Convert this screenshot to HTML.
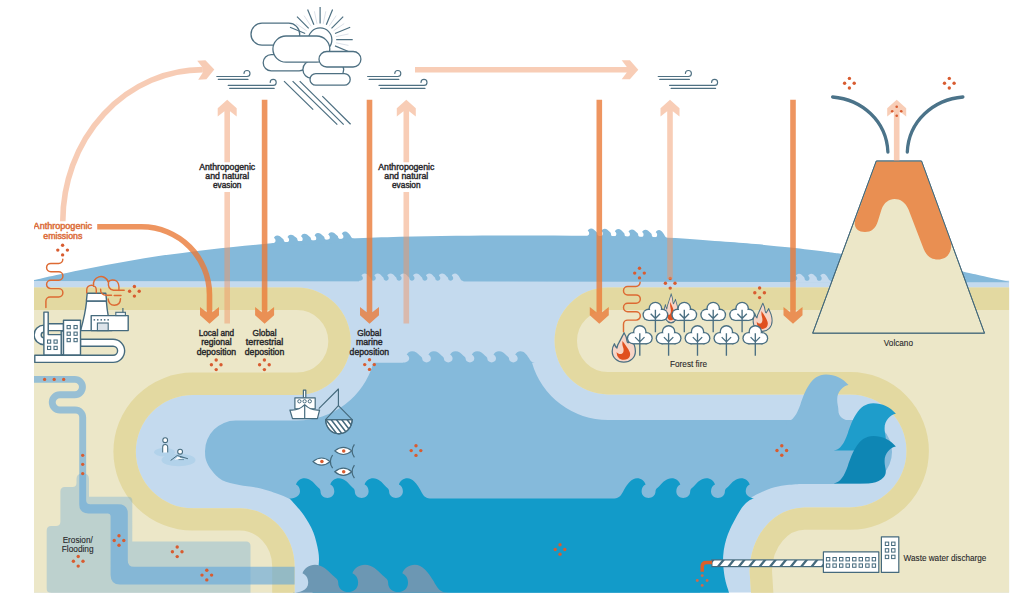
<!DOCTYPE html>
<html><head><meta charset="utf-8"><title>Mercury cycle</title>
<style>
html,body{margin:0;padding:0;background:#fff;}
body{width:1024px;height:606px;overflow:hidden;position:relative;font-family:"Liberation Sans",sans-serif;}
svg{position:absolute;left:0;top:0;display:block}
svg text{font-family:"Liberation Sans",sans-serif;}
</style></head><body>
<svg width="1024" height="606" viewBox="0 0 1024 606">
<defs>
<clipPath id="frame"><rect x="34" y="0" width="975.3" height="592.7"/></clipPath>

<clipPath id="land"><path d="M34,287.6 H297 A53.7,53.7 0 0 1 297,395 H192.8 A57,56.6 0 0 0 192.8,508.2 H240 A54.6,58.3 0 0 1 294.6,566.5 V600 H34 Z"/><path d="M1009.3,287.6 H608 A53.4,53.4 0 0 0 608,394.4 H850.2 A56.3,56.5 0 0 1 850.2,507.4 H804.5 A55,64 0 0 0 749.6,571.4 L751.5,600 H1009.3 Z"/></clipPath>
</defs>
<g clip-path="url(#frame)">
<rect x="34" y="280.6" width="975.3" height="312.1" fill="#C4DAEE"/>
<path d="M34,280 C37.6,279.2 47.6,276.9 55.4,275.2 C63.2,273.5 72.3,271.6 80.8,269.9 C89.3,268.2 97.7,266.6 106.2,265 C114.7,263.4 123.1,262 131.6,260.5 C140.1,259 148.5,257.5 157,256.2 C165.5,254.9 173.9,254 182.4,252.9 C190.9,251.8 199.3,250.8 207.8,249.8 C216.3,248.8 224.7,247.9 233.2,247 C241.7,246.1 250.1,245.3 258.6,244.5 C267.1,243.7 268.8,243.2 284,242.2 C299.2,241.2 330.7,239.5 350,238.6 C369.3,237.7 382.3,237.2 400,236.7 C417.7,236.2 436,235.9 456,235.7 C476,235.5 497.7,235.4 520,235.4 C542.3,235.4 565.4,235.4 590,235.8 C614.6,236.2 645.9,236.8 667.6,237.7 C689.3,238.6 705.6,240.2 720.3,241.3 C734.9,242.4 743.8,243.1 755.5,244.1 C767.2,245.1 778.9,246.3 790.6,247.6 C802.3,248.9 817.3,250.8 825.8,251.8 C834.3,252.9 829.2,252.3 841.6,253.9 C854,255.5 883.6,259.3 900,261.6 C916.4,263.9 928.9,265.8 940,267.6 C951.1,269.4 959.2,271 966.5,272.4 C973.8,273.8 976.9,274.6 984,276.2 C991.1,277.8 1005.1,280.8 1009.3,281.7 L1009.3,282.2 L34,281 Z" fill="#84B9DA"/>
<g clip-path="url(#land)">
<rect x="34" y="280" width="976" height="320" fill="#ECE7C8"/>
<path d="M20,287.6 H297 A53.7,53.7 0 0 1 297,395 H192.8 A57,56.6 0 0 0 192.8,508.2 H240 A54.6,58.3 0 0 1 294.6,566.5 V610" fill="none" stroke="#E3D9A1" stroke-width="44.8"/>
<path d="M1030,287.6 H608 A53.4,53.4 0 0 0 608,394.4 H850.2 A56.3,56.5 0 0 1 850.2,507.4 H804.5 A55,64 0 0 0 749.6,571.4 L752,610" fill="none" stroke="#E3D9A1" stroke-width="44.8"/>
</g>
<path d="M235.7,420.6 H297 A79.3,79.3 0 0 0 373.4,362.7 L402.6,362.7 C405,362.7 409.2,361.9 409.2,358.6 C409.2,356.7 408.2,355.3 406.7,354.7 C407.4,352.8 409.5,351.2 412.1,351.2 C415.4,351.2 417.6,353.3 420,355.7 C421.5,357 422.2,357.2 422.2,358.6 C422.2,363.7 430.9,363.7 430.9,358.6 C430.9,356.7 429.9,355.3 428.4,354.7 C429.1,352.8 431.2,351.2 433.8,351.2 C437.1,351.2 439.3,353.3 441.7,355.7 C443.2,357 443.9,357.2 443.9,358.6 C443.9,363.7 452.6,363.7 452.6,358.6 C452.6,356.7 451.6,355.3 450.1,354.7 C450.8,352.8 452.9,351.2 455.5,351.2 C458.8,351.2 461,353.3 463.4,355.7 C464.9,357 465.6,357.2 465.6,358.6 C465.6,363.7 474.3,363.7 474.3,358.6 C474.3,356.7 473.3,355.3 471.8,354.7 C472.5,352.8 474.6,351.2 477.2,351.2 C480.5,351.2 482.7,353.3 485.1,355.7 C486.6,357 487.3,357.2 487.3,358.6 C487.3,363.7 496,363.7 496,358.6 C496,356.7 495,355.3 493.5,354.7 C494.2,352.8 496.3,351.2 498.9,351.2 C502.2,351.2 504.4,353.3 506.8,355.7 C508.3,357 509,357.2 509,358.6 C509,363.7 517.7,363.7 517.7,358.6 C517.7,356.7 516.7,355.3 515.2,354.7 C515.9,352.8 518,351.2 520.6,351.2 C523.9,351.2 526.5,354.1 528.9,358 C530.4,360.8 531.7,362.7 534.8,362.7 L534.8,362.7 L532,362.7 A79,79 0 0 0 608,420 H860 A32,32 0 0 1 860,484 H800 C797.5,484.2 789.8,484.6 785,485.3 C780.2,486 775.7,486.8 771,488.3 C766.3,489.8 761,492.3 757,494.3 C753,496.3 748.7,499.5 747,500.5 L700,504 V600 H340 V502 L289.7,499 C288.1,498.3 284.9,496.5 280.1,494.7 C275.3,492.9 267.6,490 260.8,488.4 C254,486.8 245.7,486.4 239.3,485 C232.9,483.6 226.8,482.7 222.2,480.2 C217.5,477.7 214.1,473.4 211.4,470 C208.7,466.6 207.1,463.1 206,460 C204.9,456.9 205.2,452.8 205,451.3 A30.7,30.7 0 0 1 235.7,420.6 Z" fill="#85BADB"/>
<path d="M-39.7,47.4 C-33,46.5 -29,40 -25.5,30 C-21,17 -15,0 0,0 C9,0 17,4 22.6,10.5 C17,11.5 11.3,17 11.3,25 C11.3,30 12.5,32 12.5,36 C12.5,42 17,46.2 26,46.2 V50 H-39.7 Z" transform="translate(825.9,374.4)" fill="#85BADB"/>
<path d="M289.5,498.5 L289.5,498.5 C293.3,498.5 300,497.1 300,491.3 C300,487.9 298.4,485.5 296,484.5 C297,481 300.5,478.3 304.6,478.3 C309.7,478.3 313.2,482.1 316.9,486.2 C319.3,488.6 320.5,488.9 320.5,491.3 C320.5,500.2 334.3,500.2 334.3,491.3 C334.3,487.9 332.7,485.5 330.3,484.5 C331.3,481 334.8,478.3 338.9,478.3 C344,478.3 347.5,482.1 351.2,486.2 C353.6,488.6 354.8,488.9 354.8,491.3 C354.8,500.2 368.6,500.2 368.6,491.3 C368.6,487.9 367,485.5 364.6,484.5 C365.6,481 369.1,478.3 373.2,478.3 C378.3,478.3 381.8,482.1 385.5,486.2 C387.9,488.6 389.1,488.9 389.1,491.3 C389.1,500.2 402.9,500.2 402.9,491.3 C402.9,487.9 401.3,485.5 398.9,484.5 C399.9,481 403.4,478.3 407.5,478.3 C412.6,478.3 416.8,483.4 420.5,490.3 C422.9,495.1 425,498.5 429.8,498.5 L614.4,498.5 L614.4,498.5 C619.3,498.5 621.3,495.1 623.8,490.3 C627.6,483.4 631.8,478.3 637,478.3 C641.1,478.3 644.6,481 645.6,484.5 C643.2,485.5 641.6,487.9 641.6,491.3 C641.6,500.2 655.5,500.2 655.5,491.3 C655.5,488.9 656.7,488.6 659.2,486.2 C663,482.1 666.5,478.3 671.7,478.3 C675.8,478.3 679.3,481 680.3,484.5 C677.9,485.5 676.3,487.9 676.3,491.3 C676.3,500.2 690.2,500.2 690.2,491.3 C690.2,488.9 691.4,488.6 693.9,486.2 C697.7,482.1 701.1,478.3 706.4,478.3 C710.5,478.3 714,481 715,484.5 C712.6,485.5 711,487.9 711,491.3 C711,500.2 724.9,500.2 724.9,491.3 C724.9,488.9 726.1,488.6 728.6,486.2 C732.4,482.1 735.9,478.3 741.1,478.3 C745.2,478.3 748.7,481 749.7,484.5 C747.3,485.5 745.7,487.9 745.7,491.3 C745.7,497.1 752.5,498.5 756.3,498.5 L753,498.5 C751.8,499.2 748.4,500.6 746,503 C743.6,505.4 741.6,507.7 738.6,512.9 C735.6,518.1 730.5,527.1 727.9,534.3 C725.3,541.4 723.7,548.6 723.2,555.8 C722.7,562.9 723.7,571.1 724.7,577.2 C725.7,583.4 728,588.9 729,592.7 C730,596.5 730.7,598.8 731,600 H310 L312.5,592.7 C313.1,590.1 314.8,581.9 315.8,577.2 C316.8,572.5 318.3,568.7 318.7,564.4 C319.1,560.1 319.2,556.9 318.3,551.5 C317.4,546.1 315.7,538.3 313.3,532.2 C310.9,526.1 306.7,519.5 303.7,515 C300.7,510.5 297.9,507.8 295.5,505 C293.1,502.2 290.5,499.6 289.5,498.5 Z" fill="#129BC9"/>
<path d="M293,600 L293,592.7 C298.5,592.7 308.2,590.8 308.2,582.7 C308.2,578 306,574.7 302.5,573.2 C304,568.5 309,564.7 315,564.7 C322.4,564.7 327.4,569.9 332.9,575.6 C336.4,578.9 338.2,579.4 338.2,582.7 C338.2,595.1 358.1,595.1 358.1,582.7 C358.1,578 355.9,574.7 352.4,573.2 C353.9,568.5 358.9,564.7 364.9,564.7 C372.3,564.7 377.3,569.9 382.8,575.6 C386.3,578.9 388.1,579.4 388.1,582.7 C388.1,595.1 408,595.1 408,582.7 C408,578 405.8,574.7 402.3,573.2 C403.8,568.5 408.8,564.7 414.8,564.7 C422.2,564.7 428.2,571.8 433.7,581.3 C437.2,588 440.2,592.7 447.2,592.7 V600 Z" fill="#6C97B3"/>
<g transform="translate(0,243.6) rotate(-3.38 271.6 0)"><path d="M271.6,3 L271.6,0 C273.1,0 275.7,-0.5 275.7,-2.8 C275.7,-4.1 275.1,-5 274.2,-5.4 C274.6,-6.7 276,-7.8 277.6,-7.8 C279.6,-7.8 281,-6.3 282.5,-4.8 C283.4,-3.8 283.9,-3.7 283.9,-2.8 C283.9,0.7 289.3,0.7 289.3,-2.8 C289.3,-4.1 288.7,-5 287.8,-5.4 C288.2,-6.7 289.6,-7.8 291.2,-7.8 C293.2,-7.8 294.6,-6.3 296.1,-4.8 C297,-3.8 297.5,-3.7 297.5,-2.8 C297.5,0.7 302.9,0.7 302.9,-2.8 C302.9,-4.1 302.3,-5 301.4,-5.4 C301.8,-6.7 303.2,-7.8 304.8,-7.8 C306.8,-7.8 308.2,-6.3 309.7,-4.8 C310.6,-3.8 311.1,-3.7 311.1,-2.8 C311.1,0.7 316.5,0.7 316.5,-2.8 C316.5,-4.1 315.9,-5 315,-5.4 C315.4,-6.7 316.8,-7.8 318.4,-7.8 C320.4,-7.8 321.8,-6.3 323.3,-4.8 C324.2,-3.8 324.7,-3.7 324.7,-2.8 C324.7,0.7 330.1,0.7 330.1,-2.8 C330.1,-4.1 329.5,-5 328.6,-5.4 C329,-6.7 330.4,-7.8 332,-7.8 C334,-7.8 335.4,-6.3 336.9,-4.8 C337.8,-3.8 338.3,-3.7 338.3,-2.8 C338.3,0.7 343.7,0.7 343.7,-2.8 C343.7,-4.1 343.1,-5 342.2,-5.4 C342.6,-6.7 344,-7.8 345.6,-7.8 C347.6,-7.8 349.3,-5.8 350.8,-3.2 C351.7,-1.3 352.5,0 354.4,0 V3 Z" fill="#84B9DA"/></g>
<g transform="translate(0,236.1) rotate(1.34 585 0)"><path d="M585,3 L585,0 C586.5,0 589.1,-0.5 589.1,-2.8 C589.1,-4.1 588.5,-5 587.6,-5.4 C588,-6.7 589.4,-7.8 591,-7.8 C593,-7.8 594.4,-6.3 595.9,-4.8 C596.8,-3.8 597.3,-3.7 597.3,-2.8 C597.3,0.7 602.7,0.7 602.7,-2.8 C602.7,-4.1 602.1,-5 601.2,-5.4 C601.6,-6.7 603,-7.8 604.6,-7.8 C606.6,-7.8 608,-6.3 609.5,-4.8 C610.4,-3.8 610.9,-3.7 610.9,-2.8 C610.9,0.7 616.3,0.7 616.3,-2.8 C616.3,-4.1 615.7,-5 614.8,-5.4 C615.2,-6.7 616.6,-7.8 618.2,-7.8 C620.2,-7.8 621.6,-6.3 623.1,-4.8 C624,-3.8 624.5,-3.7 624.5,-2.8 C624.5,0.7 629.9,0.7 629.9,-2.8 C629.9,-4.1 629.3,-5 628.4,-5.4 C628.8,-6.7 630.2,-7.8 631.8,-7.8 C633.8,-7.8 635.2,-6.3 636.7,-4.8 C637.6,-3.8 638.1,-3.7 638.1,-2.8 C638.1,0.7 643.5,0.7 643.5,-2.8 C643.5,-4.1 642.9,-5 642,-5.4 C642.4,-6.7 643.8,-7.8 645.4,-7.8 C647.4,-7.8 648.8,-6.3 650.3,-4.8 C651.2,-3.8 651.7,-3.7 651.7,-2.8 C651.7,0.7 657.1,0.7 657.1,-2.8 C657.1,-4.1 656.5,-5 655.6,-5.4 C656,-6.7 657.4,-7.8 659,-7.8 C661,-7.8 662.7,-5.8 664.2,-3.2 C665.1,-1.3 665.9,0 667.8,0 V3 Z" fill="#84B9DA"/></g>
<g transform="translate(0,280.9)"><path d="M359,1 L359,0 C360.4,0 362.9,-0.5 362.9,-2.6 C362.9,-3.8 362.4,-4.7 361.5,-5.1 C361.8,-6.3 363.1,-7.3 364.7,-7.3 C366.6,-7.3 367.9,-5.9 369.3,-4.5 C370.2,-3.6 370.7,-3.5 370.7,-2.6 C370.7,0.6 375.8,0.6 375.8,-2.6 C375.8,-3.8 375.3,-4.7 374.4,-5.1 C374.7,-6.3 376,-7.3 377.6,-7.3 C379.5,-7.3 380.8,-5.9 382.2,-4.5 C383.1,-3.6 383.6,-3.5 383.6,-2.6 C383.6,0.6 388.7,0.6 388.7,-2.6 C388.7,-3.8 388.2,-4.7 387.3,-5.1 C387.6,-6.3 388.9,-7.3 390.5,-7.3 C392.4,-7.3 393.7,-5.9 395.1,-4.5 C396,-3.6 396.5,-3.5 396.5,-2.6 C396.5,0.6 401.6,0.6 401.6,-2.6 C401.6,-3.8 401.1,-4.7 400.2,-5.1 C400.5,-6.3 401.8,-7.3 403.4,-7.3 C405.3,-7.3 406.6,-5.9 408,-4.5 C408.9,-3.6 409.4,-3.5 409.4,-2.6 C409.4,0.6 414.5,0.6 414.5,-2.6 C414.5,-3.8 414,-4.7 413.1,-5.1 C413.4,-6.3 414.7,-7.3 416.3,-7.3 C418.2,-7.3 419.5,-5.9 420.9,-4.5 C421.8,-3.6 422.3,-3.5 422.3,-2.6 C422.3,0.6 427.4,0.6 427.4,-2.6 C427.4,-3.8 426.9,-4.7 426,-5.1 C426.3,-6.3 427.6,-7.3 429.2,-7.3 C431.1,-7.3 432.4,-5.9 433.8,-4.5 C434.7,-3.6 435.2,-3.5 435.2,-2.6 C435.2,0.6 440.3,0.6 440.3,-2.6 C440.3,-3.8 439.8,-4.7 438.9,-5.1 C439.2,-6.3 440.5,-7.3 442.1,-7.3 C444,-7.3 445.3,-5.9 446.7,-4.5 C447.6,-3.6 448.1,-3.5 448.1,-2.6 C448.1,0.6 453.2,0.6 453.2,-2.6 C453.2,-3.8 452.7,-4.7 451.8,-5.1 C452.1,-6.3 453.4,-7.3 455,-7.3 C456.9,-7.3 458.5,-5.4 459.9,-3 C460.8,-1.2 461.6,0 463.4,0 V1 Z" fill="#C4DAEE"/></g>
<g transform="translate(0,281)"><path d="M793.6,1 L793.6,0 C794.9,0 797.3,-0.5 797.3,-2.6 C797.3,-3.8 796.8,-4.6 795.9,-5 C796.3,-6.2 797.5,-7.2 799,-7.2 C800.8,-7.2 802,-5.9 803.4,-4.4 C804.2,-3.5 804.6,-3.4 804.6,-2.6 C804.6,0.6 809.5,0.6 809.5,-2.6 C809.5,-3.8 809,-4.6 808.1,-5 C808.5,-6.2 809.7,-7.2 811.2,-7.2 C813,-7.2 814.2,-5.9 815.6,-4.4 C816.4,-3.5 816.8,-3.4 816.8,-2.6 C816.8,0.6 821.7,0.6 821.7,-2.6 C821.7,-3.8 821.2,-4.6 820.3,-5 C820.7,-6.2 821.9,-7.2 823.4,-7.2 C825.2,-7.2 826.7,-5.4 828,-2.9 C828.9,-1.2 829.6,0 831.3,0 V1 Z" fill="#C4DAEE"/></g>
<path d="M-39.7,47.4 C-33,46.5 -29,40 -25.5,30 C-21,17 -15,0 0,0 C9,0 17,4 22.6,10.5 C17,11.5 11.3,17 11.3,25 C11.3,30 12.5,32 12.5,36 C12.5,41 6,47.4 -5,47.4 Z" transform="translate(873.3,403.2)" fill="#1E9DCB"/>
<path d="M-39.7,47.4 C-33,46.5 -29,40 -25.5,30 C-21,17 -15,0 0,0 C9,0 17,4 22.6,10.5 C17,11.5 11.3,17 11.3,25 C11.3,30 12.5,32 12.5,36 C12.5,41 6,47.4 -5,47.4 Z" transform="translate(873.3,436)" fill="#0E86B4"/>
<g opacity="1">
<path d="M76.5,479 Q76.5,473.8 82,473.8 H84 Q89,473.8 89,479 V496.8 H128.3 Q132.3,496.8 132.3,500.8 V541.5 H246 Q250.5,541.5 250.5,546 V600 H50.7 V592.7 Q46.7,592.7 46.7,588.7 V530.5 Q46.7,526 51.2,526 H56 Q60.4,526 60.4,521.5 V491.5 Q60.4,487 64.9,487 H72.5 Q76.5,487 76.5,483 Z" fill="#5FA5DC" fill-opacity="0.33"/>
<path d="M30,379.4 H74.8 A7.65,7.65 0 0 1 74.8,394.7 H59.9 A7.65,7.65 0 0 0 59.9,410 H75.3 A7.4,7.4 0 0 1 82.7,417.4 V470" fill="none" stroke="#5FA5DC" stroke-opacity="0.6" stroke-width="6.9"/>
<clipPath id="landL"><path d="M34,287.6 H297 A53.7,53.7 0 0 1 297,395 H192.8 A57,56.6 0 0 0 192.8,508.2 H240 A54.6,58.3 0 0 1 294.6,566.5 V600 H34 Z"/></clipPath>
<path d="M79.25,470 V504.4 Q79.4,513.4 88.4,513.4 H107.6 Q110.6,513.4 110.6,516.4 V575 Q110.6,584.5 120,584.5 H296 V566.8 H133.8 Q127.8,566.8 127.8,560.8 V513.7 Q127.8,504.2 118.3,504.2 H90.3 Q86.15,504.2 86.15,500.2 V470 Z" fill="#5FA5DC" fill-opacity="0.6" clip-path="url(#landL)"/>
</g>
<circle cx="44.6" cy="379.4" r="1.65" fill="#D85C30"/>
<circle cx="54.2" cy="379.4" r="1.65" fill="#D85C30"/>
<circle cx="63.7" cy="379.4" r="1.65" fill="#D85C30"/>
<circle cx="82.7" cy="455.3" r="1.65" fill="#D85C30"/>
<circle cx="82.7" cy="464.3" r="1.65" fill="#D85C30"/>
<circle cx="82.7" cy="473.6" r="1.65" fill="#D85C30"/>
<circle cx="62.6" cy="245.3" r="1.7" fill="#D85C30"/><circle cx="67.4" cy="250.1" r="1.7" fill="#D85C30"/><circle cx="62.6" cy="254.9" r="1.7" fill="#D85C30"/><circle cx="57.8" cy="250.1" r="1.7" fill="#D85C30"/>
<circle cx="134.4" cy="286.5" r="1.7" fill="#D85C30"/><circle cx="139.2" cy="291.3" r="1.7" fill="#D85C30"/><circle cx="134.4" cy="296.1" r="1.7" fill="#D85C30"/><circle cx="129.6" cy="291.3" r="1.7" fill="#D85C30"/>
<circle cx="216.2" cy="360" r="1.7" fill="#D85C30"/><circle cx="221" cy="364.8" r="1.7" fill="#D85C30"/><circle cx="216.2" cy="369.6" r="1.7" fill="#D85C30"/><circle cx="211.4" cy="364.8" r="1.7" fill="#D85C30"/>
<circle cx="264.4" cy="360" r="1.7" fill="#D85C30"/><circle cx="269.2" cy="364.8" r="1.7" fill="#D85C30"/><circle cx="264.4" cy="369.6" r="1.7" fill="#D85C30"/><circle cx="259.6" cy="364.8" r="1.7" fill="#D85C30"/>
<circle cx="369.5" cy="359.8" r="1.7" fill="#D85C30"/><circle cx="374.3" cy="364.6" r="1.7" fill="#D85C30"/><circle cx="369.5" cy="369.4" r="1.7" fill="#D85C30"/><circle cx="364.7" cy="364.6" r="1.7" fill="#D85C30"/>
<circle cx="416" cy="445.8" r="1.7" fill="#D85C30"/><circle cx="420.8" cy="450.6" r="1.7" fill="#D85C30"/><circle cx="416" cy="455.4" r="1.7" fill="#D85C30"/><circle cx="411.2" cy="450.6" r="1.7" fill="#D85C30"/>
<circle cx="560" cy="544.7" r="1.7" fill="#D85C30"/><circle cx="564.8" cy="549.5" r="1.7" fill="#D85C30"/><circle cx="560" cy="554.3" r="1.7" fill="#D85C30"/><circle cx="555.2" cy="549.5" r="1.7" fill="#D85C30"/>
<circle cx="78.2" cy="556.5" r="1.7" fill="#D85C30"/><circle cx="83" cy="561.3" r="1.7" fill="#D85C30"/><circle cx="78.2" cy="566.1" r="1.7" fill="#D85C30"/><circle cx="73.4" cy="561.3" r="1.7" fill="#D85C30"/>
<circle cx="119" cy="535.7" r="1.7" fill="#D85C30"/><circle cx="123.8" cy="540.5" r="1.7" fill="#D85C30"/><circle cx="119" cy="545.3" r="1.7" fill="#D85C30"/><circle cx="114.2" cy="540.5" r="1.7" fill="#D85C30"/>
<circle cx="177.2" cy="547" r="1.7" fill="#D85C30"/><circle cx="182" cy="551.8" r="1.7" fill="#D85C30"/><circle cx="177.2" cy="556.6" r="1.7" fill="#D85C30"/><circle cx="172.4" cy="551.8" r="1.7" fill="#D85C30"/>
<circle cx="206.8" cy="570.3" r="1.7" fill="#D85C30"/><circle cx="211.6" cy="575.1" r="1.7" fill="#D85C30"/><circle cx="206.8" cy="579.9" r="1.7" fill="#D85C30"/><circle cx="202" cy="575.1" r="1.7" fill="#D85C30"/>
<circle cx="639.5" cy="268.3" r="1.7" fill="#D85C30"/><circle cx="644.3" cy="273.1" r="1.7" fill="#D85C30"/><circle cx="639.5" cy="277.9" r="1.7" fill="#D85C30"/><circle cx="634.7" cy="273.1" r="1.7" fill="#D85C30"/>
<circle cx="670.2" cy="278.5" r="1.7" fill="#D85C30"/><circle cx="675" cy="283.3" r="1.7" fill="#D85C30"/><circle cx="670.2" cy="288.1" r="1.7" fill="#D85C30"/><circle cx="665.4" cy="283.3" r="1.7" fill="#D85C30"/>
<circle cx="759.6" cy="288" r="1.7" fill="#D85C30"/><circle cx="764.4" cy="292.8" r="1.7" fill="#D85C30"/><circle cx="759.6" cy="297.6" r="1.7" fill="#D85C30"/><circle cx="754.8" cy="292.8" r="1.7" fill="#D85C30"/>
<circle cx="781.8" cy="445.7" r="1.7" fill="#D85C30"/><circle cx="786.6" cy="450.5" r="1.7" fill="#D85C30"/><circle cx="781.8" cy="455.3" r="1.7" fill="#D85C30"/><circle cx="777" cy="450.5" r="1.7" fill="#D85C30"/>
<circle cx="849.4" cy="78.4" r="1.7" fill="#D85C30"/><circle cx="854.2" cy="83.2" r="1.7" fill="#D85C30"/><circle cx="849.4" cy="88" r="1.7" fill="#D85C30"/><circle cx="844.6" cy="83.2" r="1.7" fill="#D85C30"/>
<circle cx="949.3" cy="78.4" r="1.7" fill="#D85C30"/><circle cx="954.1" cy="83.2" r="1.7" fill="#D85C30"/><circle cx="949.3" cy="88" r="1.7" fill="#D85C30"/><circle cx="944.5" cy="83.2" r="1.7" fill="#D85C30"/>
<circle cx="702.2" cy="575.6" r="1.45" fill="#D0694A"/><circle cx="707.1" cy="580.5" r="1.45" fill="#D0694A"/><circle cx="702.2" cy="585.4" r="1.45" fill="#D0694A"/><circle cx="697.3" cy="580.5" r="1.45" fill="#D0694A"/>
<path d="M876.3,161 L921.5,161 L984.5,333.2 L812.7,333.2 Z" fill="#ECE7C8" stroke="#3F6578" stroke-width="0.9" stroke-linejoin="miter"/>
<path d="M876.5,161.5 H921.3 L950.5,241 C953,249 949,259.5 938,259.5 C929,259.5 925.5,254 922.5,246 L908.5,209.5 C905.5,202 900,199 894.5,199 C889,199 884,202.5 881.5,209.5 L877.8,221.5 C875.5,229 871,232 865,232 C858,232 853.5,228 855,220.5 Z" fill="#E98F52"/>
<path d="M876.3,161 L921.5,161 L984.5,333.2 L812.7,333.2 Z" fill="none" stroke="#3F6578" stroke-width="0.9"/>
<path d="M832.6,97 C862,99.5 886.5,121 887.9,152" fill="none" stroke="#4B7389" stroke-width="3.3" stroke-linecap="round"/>
<path d="M962.9,97 C933.5,99.5 908.7,121 907.3,152" fill="none" stroke="#4B7389" stroke-width="3.3" stroke-linecap="round"/>
<path d="M893.9,111.3 L887.2,116.4 L887.2,108.2 L896.7,99.8 L906.2,108.2 L906.2,116.4 L899.5,111.3 V161 H893.9 Z" fill="#F09464" fill-opacity="0.47"/>
<circle cx="896.7" cy="106.7" r="1.3" fill="#D85C30"/><circle cx="901.2" cy="111.2" r="1.3" fill="#D85C30"/><circle cx="896.7" cy="115.7" r="1.3" fill="#D85C30"/><circle cx="892.2" cy="111.2" r="1.3" fill="#D85C30"/>
<path d="M261.8,99.8 H267.4 L267.4,312.2 L274.1,307.1 L274.1,315.3 L264.6,323.7 L255.1,315.3 L255.1,307.1 L261.8,312.2 Z" fill="#EA7A38" fill-opacity="0.8"/>
<path d="M366.7,99.8 H372.3 L372.3,312.2 L379,307.1 L379,315.3 L369.5,323.7 L360,315.3 L360,307.1 L366.7,312.2 Z" fill="#EA7A38" fill-opacity="0.8"/>
<path d="M596.5,99.8 H602.1 L602.1,312.2 L608.8,307.1 L608.8,315.3 L599.3,323.7 L589.8,315.3 L589.8,307.1 L596.5,312.2 Z" fill="#EA7A38" fill-opacity="0.8"/>
<path d="M790.2,99.8 H795.8 L795.8,312.2 L802.5,307.1 L802.5,315.3 L793,323.7 L783.5,315.3 L783.5,307.1 L790.2,312.2 Z" fill="#EA7A38" fill-opacity="0.8"/>
<path d="M224.4,111.3 L217.7,116.4 L217.7,108.2 L227.2,99.8 L236.7,108.2 L236.7,116.4 L230,111.3 V162.3 H224.4 Z M224.4,192 H230 V323.5 H224.4 Z" fill="#F09464" fill-opacity="0.47"/>
<path d="M403.5,111.3 L396.8,116.4 L396.8,108.2 L406.3,99.8 L415.8,108.2 L415.8,116.4 L409.1,111.3 V162.3 H403.5 Z M403.5,192 H409.1 V323.5 H403.5 Z" fill="#F09464" fill-opacity="0.47"/>
<path d="M667.2,111.3 L660.5,116.4 L660.5,108.2 L670,99.8 L679.5,108.2 L679.5,116.4 L672.8,111.3 V279 H667.2 Z" fill="#F09464" fill-opacity="0.47"/>
<path d="M415,66.9 H626.8 L621.7,60.2 L629.9,60.2 L638.3,69.7 L629.9,79.2 L621.7,79.2 L626.8,72.5 H415 Z" fill="#F09464" fill-opacity="0.47"/>
<g opacity="0.47"><path d="M62.8,221.3 A140,151.7 0 0 1 202.8,69.6" fill="none" stroke="#F09464" stroke-width="5.6"/><path d="M202.5,66.6 L197.7,59.9 L205.9,59.9 L214.3,69.4 L205.9,78.9 L197.7,78.9 L202.5,72.2 Z" fill="#F09464" transform="rotate(-3 214.3 69.4)"/></g>
<path d="M97.2,224 H141.5 A70.8,70.8 0 0 1 212.3,294.8 L212.3,312.2 L219,307.1 L219,315.3 L209.5,323.7 L200,315.3 L200,307.1 L206.7,312.2 V294.8 A65.2,65.2 0 0 0 141.5,229.6 H97.2 Z" fill="#EA7A38" fill-opacity="0.8"/>
<rect x="251" y="23.2" width="48.7" height="21.9" rx="11" fill="#fff" stroke="#4E7082" stroke-width="1.3"/>
<path d="M305.2,33.5 L290,27.2 M308.7,28.3 L297,16.6 M313.9,24.8 L307.6,9.6 M320.1,23.6 L320.1,7.1 M326.3,24.8 L332.6,9.6 M331.5,28.3 L343.2,16.6 M335,33.5 L350.2,27.2 M336.2,39.7 L352.7,39.7 M335,45.9 L350.2,52.2 " stroke="#4E7082" stroke-width="1.2" fill="none"/>
<path d="M306.7,30.8 L296,23.6 M311.2,26.3 L304,15.6 M317,23.9 L314.4,11.3 M323.2,23.9 L325.8,11.3 M329,26.3 L336.2,15.6 M333.5,30.8 L344.2,23.6 M335.9,36.6 L348.5,34 M335.9,42.8 L348.5,45.4 " stroke="#D8DEE6" stroke-width="0.9" fill="none"/>
<circle cx="320.1" cy="39.7" r="11.8" fill="#fff" stroke="#4E7082" stroke-width="1.3"/>
<rect x="263.2" y="54.7" width="44" height="16.1" rx="8" fill="#fff" stroke="#4E7082" stroke-width="1.3"/>
<rect x="302.9" y="60.7" width="40.8" height="17.6" rx="8.8" fill="#fff" stroke="#4E7082" stroke-width="1.3"/>
<rect x="272.9" y="36" width="56.9" height="26.2" rx="13.1" fill="#fff" stroke="#4E7082" stroke-width="1.3"/>
<rect x="310" y="73.6" width="40.2" height="11.6" rx="5.8" fill="#fff" stroke="#4E7082" stroke-width="1.3"/>
<rect x="319" y="51.5" width="41.9" height="15.5" rx="7.8" fill="#fff" stroke="#4E7082" stroke-width="1.3"/>
<path d="M284,81.1 L313.2,109.6 M292.6,81.1 L337.3,124.6 M299.7,81.1 L343.7,124.6 M322.3,96.1 L350.6,124.2" stroke="#4E7082" stroke-width="1.25" fill="none"/>
<path d="M216.8,76.5 H247 a3,3 0 1 0 -3,-3 M218.3,79.4 H248 M228.2,85.4 H273.2 a3,3 0 1 0 -3,-3 M229.7,88.4 H274.2" stroke="#4E7082" stroke-width="1.15" fill="none" stroke-linecap="round"/>
<path d="M367.6,76.5 H397.8 a3,3 0 1 0 -3,-3 M369.1,79.4 H398.8 M379,85.4 H424 a3,3 0 1 0 -3,-3 M380.5,88.4 H425" stroke="#4E7082" stroke-width="1.15" fill="none" stroke-linecap="round"/>
<path d="M658.2,76.5 H688.4 a3,3 0 1 0 -3,-3 M659.7,79.4 H689.4 M669.6,85.4 H714.6 a3,3 0 1 0 -3,-3 M671.1,88.4 H715.6" stroke="#4E7082" stroke-width="1.15" fill="none" stroke-linecap="round"/>
<g>
<path d="M43.9,325.1 A9.8,9.8 0 0 0 43.9,344.7 V337.6 A2.7,2.7 0 0 1 43.9,332.2 Z" fill="#fff" stroke="#456A7D" stroke-width="1.4" stroke-linejoin="round"/>
<path d="M34.8,355.2 H113.1 A4.5,4.5 0 0 0 113.1,346.2 H80.5 V339.3 H113.1 A11.55,11.55 0 0 1 113.1,362.4 H34.8 Z" fill="#fff" stroke="#456A7D" stroke-width="1.4" stroke-linejoin="round"/>
<rect x="48.2" y="323.7" width="15.3" height="6.9" fill="#fff" stroke="#456A7D" stroke-width="1.4" stroke-linejoin="round"/>
<rect x="61.2" y="331" width="2.3" height="23.8" fill="#fff" stroke="#456A7D" stroke-width="1.4" stroke-linejoin="round"/>
<path d="M86.6,301 C85.5,312 83,322 80.6,330.6 H112 C109,322 107.2,312 106.3,301 Z" fill="#fff" stroke="#456A7D" stroke-width="1.4" stroke-linejoin="round"/>
<path d="M87.2,293.2 H105.8 L106.6,301 H86.4 Z" fill="#fff" stroke="#456A7D" stroke-width="1.4" stroke-linejoin="round"/>
<rect x="91.2" y="315.6" width="37" height="15" fill="#fff" stroke="#456A7D" stroke-width="1.4" stroke-linejoin="round"/>
<rect x="115.8" y="312.3" width="9.6" height="3.3" fill="#EEF2F5" stroke="#456A7D" stroke-width="1.1"/>
<path d="M122.9,308 V312.3" stroke="#456A7D" stroke-width="1.2"/>
<rect x="97.4" y="323" width="10.8" height="7.6" fill="#DDE4EA" stroke="#456A7D" stroke-width="1.1"/>
<rect x="93.6" y="319.1" width="1.5" height="1.5" fill="#456A7D"/>
<rect x="97" y="319.1" width="1.5" height="1.5" fill="#456A7D"/>
<rect x="100.5" y="319.1" width="1.5" height="1.5" fill="#456A7D"/>
<rect x="103.9" y="319.1" width="1.5" height="1.5" fill="#456A7D"/>
<rect x="107.4" y="319.1" width="1.5" height="1.5" fill="#456A7D"/>
<path d="M43.9,312.1 H48.2 V334.6 H61.2 V354.9 H43.9 Z" fill="#fff" stroke="#456A7D" stroke-width="1.4" stroke-linejoin="round"/>
<rect x="47.5" y="340" width="3.2" height="3.2" fill="#fff" stroke="#456A7D" stroke-width="1.05"/>
<rect x="47.5" y="346.3" width="3.2" height="3.2" fill="#fff" stroke="#456A7D" stroke-width="1.05"/>
<rect x="54" y="340" width="3.2" height="3.2" fill="#fff" stroke="#456A7D" stroke-width="1.05"/>
<rect x="54" y="346.3" width="3.2" height="3.2" fill="#fff" stroke="#456A7D" stroke-width="1.05"/>
<rect x="63.5" y="320.2" width="17" height="34.7" fill="#fff" stroke="#456A7D" stroke-width="1.4" stroke-linejoin="round"/>
<rect x="67.1" y="325.5" width="3.2" height="3.2" fill="#fff" stroke="#456A7D" stroke-width="1.05"/>
<rect x="67.1" y="332.1" width="3.2" height="3.2" fill="#fff" stroke="#456A7D" stroke-width="1.05"/>
<rect x="67.1" y="338.5" width="3.2" height="3.2" fill="#fff" stroke="#456A7D" stroke-width="1.05"/>
<rect x="74" y="325.5" width="3.2" height="3.2" fill="#fff" stroke="#456A7D" stroke-width="1.05"/>
<rect x="74" y="332.1" width="3.2" height="3.2" fill="#fff" stroke="#456A7D" stroke-width="1.05"/>
<rect x="74" y="338.5" width="3.2" height="3.2" fill="#fff" stroke="#456A7D" stroke-width="1.05"/>
</g>
<path d="M86.7,292.8 V290 A4.8,4.8 0 0 1 96.3,290 V292.8 M93.7,286.2 A7.4,7.4 0 0 1 108.2,282 M108.2,282 C110,279.5 114,279.5 116.5,281 C119,283 119.3,286 118.9,290.4 M108.6,281.6 C107.8,286 109.5,289.5 113.5,290.3 H124.2 M100.6,289.3 C100.3,293.5 103,295.2 106.5,295.2 H111.5 M114.2,295.5 H121 M108.2,299 C108.6,303.5 111.2,305.2 114.4,305.2 C117.8,305.2 120.4,303 120.5,298.8" fill="none" stroke="#DD6A33" stroke-width="1.45" stroke-linecap="round"/>
<path d="M62.8,259.2 A4.2,4.2 0 0 1 58.6,263.4 H50.8 A4.2,4.2 0 0 0 50.8,271.8 H58.7 A4.2,4.2 0 0 1 58.7,280.2 H50.8 A4.2,4.2 0 0 0 50.8,288.6 H58.7 A4.2,4.2 0 0 1 58.7,297 H50.1 A4.2,4.2 0 0 0 45.9,301.2 V307.5" fill="none" stroke="#DD6A33" stroke-width="1.45" stroke-linecap="round"/>
<defs>
<g id="fire"><path d="M0.3,-29.5 C1.5,-27.5 3,-25 3.1,-21.6 C3.2,-20.5 3.8,-19.6 4.4,-19.4 C5,-20.8 6.5,-22.5 7.5,-23.8 C8.5,-21 10,-19 10.7,-16.6 C11.4,-14.5 11.6,-12.5 11.6,-11 C11.6,-4.5 6.4,0 0,0 C-6.4,0 -11.6,-4.5 -11.6,-11 C-11.6,-14 -10.6,-16.5 -9.4,-18.5 C-8.8,-16.5 -8,-15 -6.9,-14.1 C-6.5,-17 -5.6,-18.5 -4.7,-19.8 C-3.5,-22 -1.5,-26 0.3,-29.5 Z" fill="#F7D5C6" stroke="#4A6F82" stroke-width="1.25" stroke-linejoin="round"/><path d="M-1.3,-21.3 C1,-18 4.5,-14 6,-10 C7.2,-6.5 5.5,-2.8 0.2,-2.5 C-4,-2.3 -7,-5 -7.2,-10.3 C-6,-8.5 -4,-7.8 -2.5,-8.3 C0,-9.2 0.3,-12.5 -0.8,-15.3 C-1.5,-17.2 -1.6,-19 -1.3,-21.3 Z" fill="#E0501F"/></g>
<g id="tree"><g fill="#4A6F82"><circle cx="0" cy="6.2" r="6.85"/><circle cx="-6.7" cy="12.5" r="6.25"/><circle cx="6.7" cy="12.5" r="6.25"/><rect x="-6.7" y="10" width="13.4" height="8.75"/></g><g fill="#fff"><circle cx="0" cy="6.2" r="5.5"/><circle cx="-6.7" cy="12.5" r="4.9"/><circle cx="6.7" cy="12.5" r="4.9"/><rect x="-6.7" y="8" width="13.4" height="9.4"/></g><path d="M0,7.5 V30 M-4.7,11.4 L0,16.2 L4.7,11.4" fill="none" stroke="#4A6F82" stroke-width="1.35"/></g>
</defs>
<use href="#fire" transform="translate(671,322.8) scale(0.6,0.98)"/>
<use href="#fire" transform="translate(762.6,331.3) scale(0.82,0.95)"/>
<path d="M640.1,282.3 A4.2,4.2 0 0 1 635.9,286.5 H627.7 A4.2,4.2 0 0 0 627.7,294.9 H636.1 A4.2,4.2 0 0 1 636.1,303.3 H627.7 A4.2,4.2 0 0 0 627.7,311.7 H636.1 A4.2,4.2 0 0 1 636.1,320.1 H627.7 A4.2,4.2 0 0 0 623.5,324.3 V331.8" fill="none" stroke="#DD6A33" stroke-width="1.45" stroke-linecap="round"/>
<use href="#fire" transform="translate(623.8,362.2)"/>
<use href="#tree" transform="translate(655.4,302.3)"/>
<use href="#tree" transform="translate(684.3,302.3)"/>
<use href="#tree" transform="translate(713.2,302.3)"/>
<use href="#tree" transform="translate(742.1,302.3)"/>
<use href="#tree" transform="translate(639.8,325.7)"/>
<use href="#tree" transform="translate(668.6,325.7)"/>
<use href="#tree" transform="translate(697.5,325.7)"/>
<use href="#tree" transform="translate(726.4,325.7)"/>
<use href="#tree" transform="translate(755.3,325.7)"/>
<ellipse cx="164.5" cy="452.2" rx="10.5" ry="4.2" fill="#B2D2EA"/><ellipse cx="178.5" cy="460" rx="17" ry="6.2" fill="#B2D2EA"/>
<circle cx="165.2" cy="440.2" r="2.4" fill="#fff" stroke="#456A7D" stroke-width="1.05"/>
<path d="M162.7,452.6 V447 A2.5,2.5 0 0 1 167.7,447 V452.6" fill="#fff" stroke="#456A7D" stroke-width="1.05"/>
<circle cx="180.1" cy="451.7" r="2.4" fill="#fff" stroke="#456A7D" stroke-width="1.05"/>
<path d="M171,460.2 L177.2,455.5 L187.5,458.6" fill="none" stroke="#456A7D" stroke-width="1" stroke-linecap="round" stroke-linejoin="round"/>
<path d="M174.5,459.8 L177.8,456.8 L183,458.4 Z" fill="#fff"/>
<path d="M178.5,459.6 H184 M180,457.4 H183.5" stroke="#456A7D" stroke-width="0.6"/>
<rect x="303.4" y="390.2" width="2.4" height="8" fill="#fff" stroke="#456A7D" stroke-width="1.2" stroke-linejoin="round"/>
<rect x="294.9" y="397.8" width="20.3" height="11" fill="#fff" stroke="#456A7D" stroke-width="1.2" stroke-linejoin="round"/>
<circle cx="299.4" cy="401.3" r="1.65" fill="#fff" stroke="#456A7D" stroke-width="1"/>
<circle cx="304.6" cy="401.3" r="1.65" fill="#fff" stroke="#456A7D" stroke-width="1"/>
<circle cx="309.8" cy="401.3" r="1.65" fill="#fff" stroke="#456A7D" stroke-width="1"/>
<path d="M289.9,410 C296,410.6 301,408.5 304.7,404.6 C308.5,408.5 313.5,410.6 319.6,410 L317.4,418.6 H292.5 Z M304.7,404.6 V418.6" fill="#fff" stroke="#456A7D" stroke-width="1.2" stroke-linejoin="round"/>
<path d="M318.8,408.6 L338.4,389 V405.7 M325.6,419.6 L338.4,405.7 L352.2,419.6" fill="none" stroke="#456A7D" stroke-width="1.15" stroke-linejoin="round"/>
<clipPath id="netc"><path d="M325.6,419.6 H352.2 A13.3,14.2 0 0 1 325.6,419.6 Z"/></clipPath>
<path d="M325.6,419.6 H352.2 A13.3,14.2 0 0 1 325.6,419.6 Z" fill="#fff" stroke="#456A7D" stroke-width="1.2" stroke-linejoin="round"/>
<path d="M318.5,417 l15.4,20 M323.8,417 l15.4,20 M329.1,417 l15.4,20 M334.4,417 l15.4,20 M339.7,417 l15.4,20 M345,417 l15.4,20 M350.3,417 l15.4,20 M355.6,417 l15.4,20" stroke="#456A7D" stroke-width="1.55" clip-path="url(#netc)"/>
<path d="M325.6,419.6 H352.2 A13.3,14.2 0 0 1 325.6,419.6 Z" fill="none" stroke="#456A7D" stroke-width="1.2"/>
<g transform="translate(343.4,450.9)"><path d="M-8.6,0 Q0,-7.2 8.4,0 Q0,7.2 -8.6,0 Z" fill="#fff" stroke="#456A7D" stroke-width="1.2"/><path d="M11,-6.6 Q6.4,0 11,6.5" fill="none" stroke="#456A7D" stroke-width="1.2"/><circle cx="0.3" cy="0" r="1.75" fill="#D85C30"/></g>
<g transform="translate(321.6,461.6)"><path d="M-8.6,0 Q0,-7.2 8.4,0 Q0,7.2 -8.6,0 Z" fill="#fff" stroke="#456A7D" stroke-width="1.2"/><path d="M11,-6.6 Q6.4,0 11,6.5" fill="none" stroke="#456A7D" stroke-width="1.2"/><circle cx="0.3" cy="0" r="1.75" fill="#D85C30"/></g>
<g transform="translate(343.4,471.7)"><path d="M-8.6,0 Q0,-7.2 8.4,0 Q0,7.2 -8.6,0 Z" fill="#fff" stroke="#456A7D" stroke-width="1.2"/><path d="M11,-6.6 Q6.4,0 11,6.5" fill="none" stroke="#456A7D" stroke-width="1.2"/><circle cx="0.3" cy="0" r="1.75" fill="#D85C30"/></g>
<clipPath id="pipec"><rect x="711.9" y="559.9" width="111.5" height="6.7"/></clipPath>
<rect x="711.9" y="559.9" width="111.5" height="6.7" fill="#fff"/>
<path d="M706.3,568.3 l8.1,-10 M716.7,568.3 l8.1,-10 M727.1,568.3 l8.1,-10 M737.5,568.3 l8.1,-10 M747.9,568.3 l8.1,-10 M758.3,568.3 l8.1,-10 M768.7,568.3 l8.1,-10 M779.1,568.3 l8.1,-10 M789.5,568.3 l8.1,-10 M799.9,568.3 l8.1,-10 M810.3,568.3 l8.1,-10 M820.7,568.3 l8.1,-10 M831.1,568.3 l8.1,-10" stroke="#456A7D" stroke-width="2.3" clip-path="url(#pipec)"/>
<rect x="711.9" y="559.9" width="111.5" height="6.7" fill="none" stroke="#456A7D" stroke-width="1.2"/>
<path d="M712,562.4 H706.4 Q702.2,562.4 702.2,566.6 V571.8" fill="none" stroke="#D9602B" stroke-width="3.5"/>
<rect x="823.4" y="551.9" width="55.4" height="20.5" fill="#fff" stroke="#456A7D" stroke-width="1.2" stroke-linejoin="round"/>
<rect x="881.4" y="536.8" width="17.4" height="35.6" fill="#fff" stroke="#456A7D" stroke-width="1.2" stroke-linejoin="round"/>
<rect x="826.4" y="557.5" width="3.4" height="3.4" fill="#fff" stroke="#456A7D" stroke-width="1"/>
<rect x="826.4" y="563.9" width="3.4" height="3.4" fill="#fff" stroke="#456A7D" stroke-width="1"/>
<rect x="832.9" y="557.5" width="3.4" height="3.4" fill="#fff" stroke="#456A7D" stroke-width="1"/>
<rect x="832.9" y="563.9" width="3.4" height="3.4" fill="#fff" stroke="#456A7D" stroke-width="1"/>
<rect x="839.5" y="557.5" width="3.4" height="3.4" fill="#fff" stroke="#456A7D" stroke-width="1"/>
<rect x="839.5" y="563.9" width="3.4" height="3.4" fill="#fff" stroke="#456A7D" stroke-width="1"/>
<rect x="846" y="557.5" width="3.4" height="3.4" fill="#fff" stroke="#456A7D" stroke-width="1"/>
<rect x="846" y="563.9" width="3.4" height="3.4" fill="#fff" stroke="#456A7D" stroke-width="1"/>
<rect x="852.6" y="557.5" width="3.4" height="3.4" fill="#fff" stroke="#456A7D" stroke-width="1"/>
<rect x="852.6" y="563.9" width="3.4" height="3.4" fill="#fff" stroke="#456A7D" stroke-width="1"/>
<rect x="859.1" y="557.5" width="3.4" height="3.4" fill="#fff" stroke="#456A7D" stroke-width="1"/>
<rect x="859.1" y="563.9" width="3.4" height="3.4" fill="#fff" stroke="#456A7D" stroke-width="1"/>
<rect x="865.7" y="557.5" width="3.4" height="3.4" fill="#fff" stroke="#456A7D" stroke-width="1"/>
<rect x="865.7" y="563.9" width="3.4" height="3.4" fill="#fff" stroke="#456A7D" stroke-width="1"/>
<rect x="872.2" y="557.5" width="3.4" height="3.4" fill="#fff" stroke="#456A7D" stroke-width="1"/>
<rect x="872.2" y="563.9" width="3.4" height="3.4" fill="#fff" stroke="#456A7D" stroke-width="1"/>
<rect x="885.3" y="542.1" width="3.4" height="3.4" fill="#fff" stroke="#456A7D" stroke-width="1"/>
<rect x="885.3" y="548.7" width="3.4" height="3.4" fill="#fff" stroke="#456A7D" stroke-width="1"/>
<rect x="885.3" y="555.2" width="3.4" height="3.4" fill="#fff" stroke="#456A7D" stroke-width="1"/>
<rect x="891.6" y="542.1" width="3.4" height="3.4" fill="#fff" stroke="#456A7D" stroke-width="1"/>
<rect x="891.6" y="548.7" width="3.4" height="3.4" fill="#fff" stroke="#456A7D" stroke-width="1"/>
<rect x="891.6" y="555.2" width="3.4" height="3.4" fill="#fff" stroke="#456A7D" stroke-width="1"/>
<text font-size="8.8" fill="#27272a" stroke="#27272a" stroke-width="0.4" text-anchor="middle"><tspan x="227.2" y="169.8" textLength="56" lengthAdjust="spacingAndGlyphs">Anthropogenic</tspan><tspan x="227.2" y="179.1" textLength="43.9" lengthAdjust="spacingAndGlyphs">and natural</tspan><tspan x="227.2" y="188.3" textLength="28.6" lengthAdjust="spacingAndGlyphs">evasion</tspan></text>
<text font-size="8.8" fill="#27272a" stroke="#27272a" stroke-width="0.4" text-anchor="middle"><tspan x="406.3" y="169.8" textLength="56" lengthAdjust="spacingAndGlyphs">Anthropogenic</tspan><tspan x="406.3" y="179.1" textLength="43.9" lengthAdjust="spacingAndGlyphs">and natural</tspan><tspan x="406.3" y="188.3" textLength="28.6" lengthAdjust="spacingAndGlyphs">evasion</tspan></text>
<text font-size="8.8" fill="#27272a" stroke="#27272a" stroke-width="0.4" text-anchor="middle"><tspan x="216.4" y="335.9" textLength="35.5" lengthAdjust="spacingAndGlyphs">Local and</tspan><tspan x="216.4" y="345.3" textLength="30.4" lengthAdjust="spacingAndGlyphs">regional</tspan><tspan x="216.4" y="354.7" textLength="39.4" lengthAdjust="spacingAndGlyphs">deposition</tspan></text>
<text font-size="8.8" fill="#27272a" stroke="#27272a" stroke-width="0.4" text-anchor="middle"><tspan x="264.5" y="335.9" textLength="24" lengthAdjust="spacingAndGlyphs">Global</tspan><tspan x="264.5" y="345.3" textLength="37.5" lengthAdjust="spacingAndGlyphs">terrestrial</tspan><tspan x="264.5" y="354.7" textLength="39.4" lengthAdjust="spacingAndGlyphs">deposition</tspan></text>
<text font-size="8.8" fill="#27272a" stroke="#27272a" stroke-width="0.4" text-anchor="middle"><tspan x="369.3" y="335.9" textLength="24" lengthAdjust="spacingAndGlyphs">Global</tspan><tspan x="369.3" y="345.3" textLength="26.7" lengthAdjust="spacingAndGlyphs">marine</tspan><tspan x="369.3" y="354.7" textLength="39.4" lengthAdjust="spacingAndGlyphs">deposition</tspan></text>
<text font-size="8.8" fill="#DC7040" stroke="#DC7040" stroke-width="0.5" text-anchor="middle"><tspan x="62.8" y="229.3" textLength="58.4" lengthAdjust="spacingAndGlyphs">Anthropogenic</tspan><tspan x="62.8" y="238.9" textLength="39.1" lengthAdjust="spacingAndGlyphs">emissions</tspan></text>
<text font-size="8.8" fill="#27272a" stroke="#27272a" stroke-width="0.1" text-anchor="middle"><tspan x="77.7" y="543.3" textLength="30.1" lengthAdjust="spacingAndGlyphs">Erosion/</tspan><tspan x="77.7" y="552.2" textLength="31.8" lengthAdjust="spacingAndGlyphs">Flooding</tspan></text>
<text font-size="8.8" fill="#27272a" stroke="#27272a" stroke-width="0.1" text-anchor="middle"><tspan x="688.5" y="367.2" textLength="36.9" lengthAdjust="spacingAndGlyphs">Forest fire</tspan></text>
<text font-size="8.8" fill="#27272a" stroke="#27272a" stroke-width="0.1" text-anchor="middle"><tspan x="898.4" y="346.4" textLength="29.1" lengthAdjust="spacingAndGlyphs">Volcano</tspan></text>
<text font-size="8.8" fill="#27272a" stroke="#27272a" stroke-width="0.1" text-anchor="start"><tspan x="903.6" y="560.6" textLength="82.8" lengthAdjust="spacingAndGlyphs">Waste water discharge</tspan></text>
</g>
</svg></body></html>
